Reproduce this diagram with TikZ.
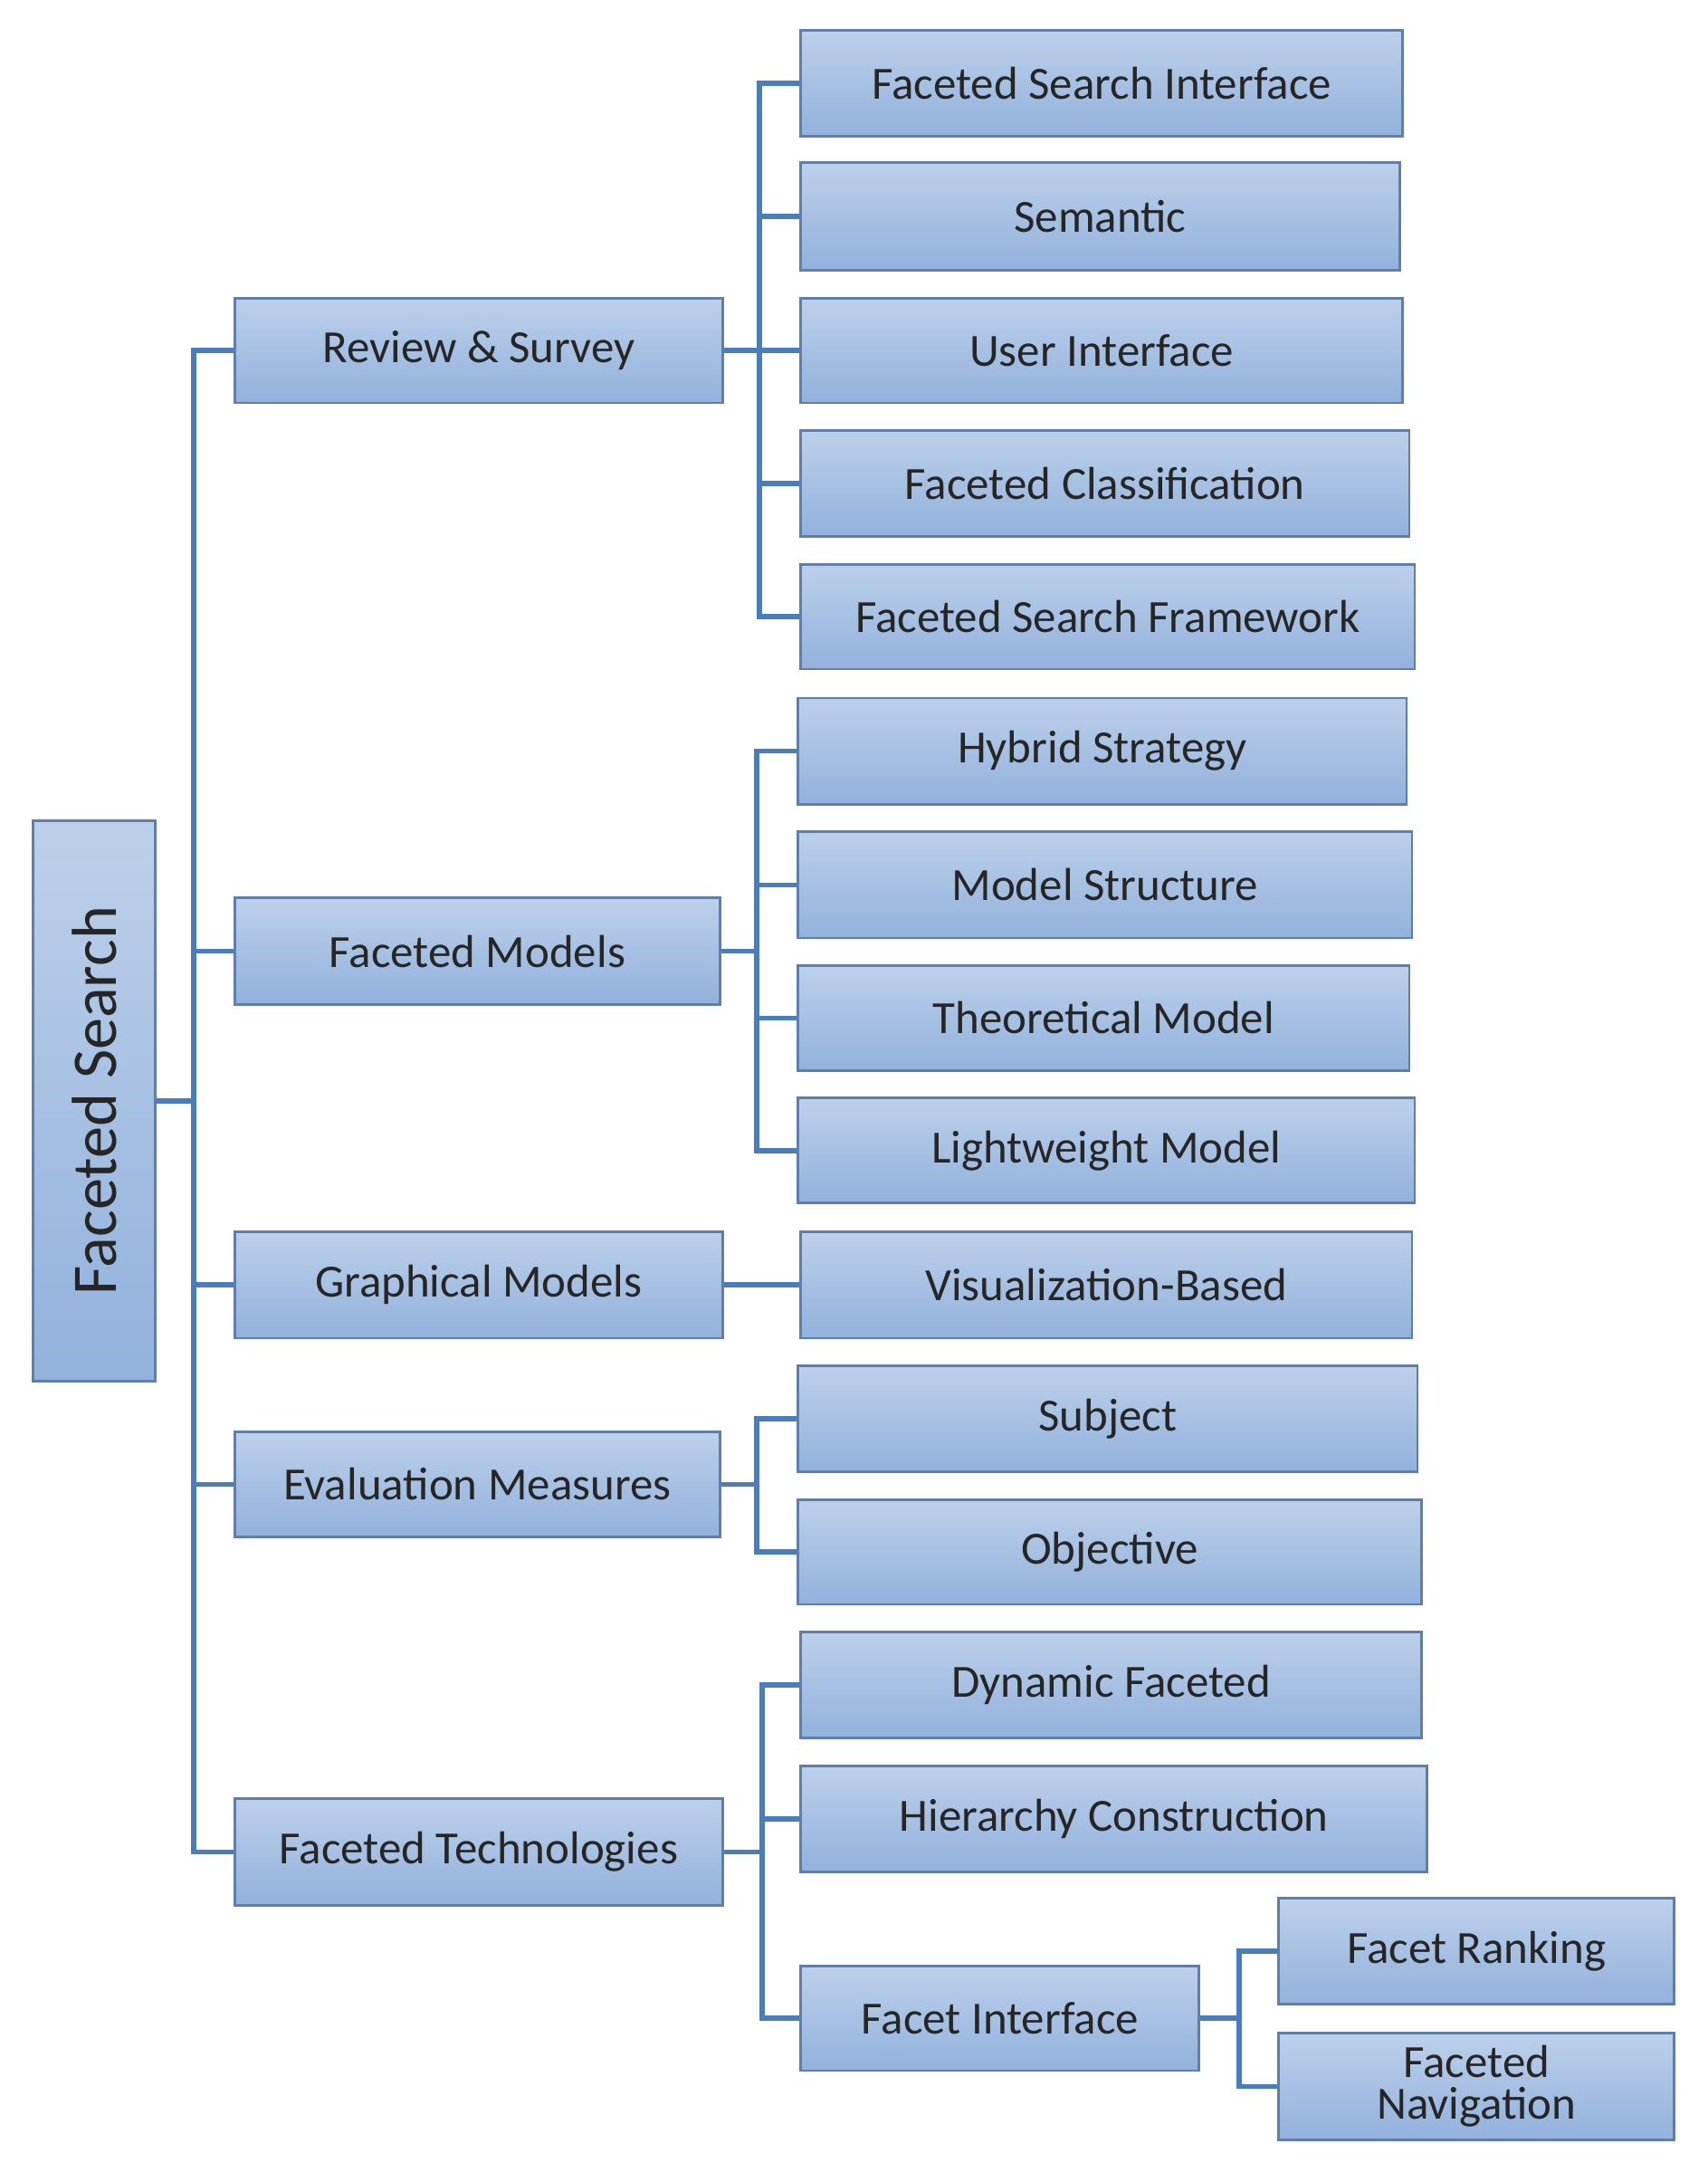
\documentclass[tikz,border=0pt]{standalone}
\usepackage{fontspec}
\setmainfont{Carlito}
\usetikzlibrary{calc}
\definecolor{bxtop}{HTML}{BCD0EA}
\definecolor{bxbot}{HTML}{92B1DC}
\definecolor{bxline}{HTML}{5F7FA8}
\definecolor{conn}{HTML}{4A7EBB}
\tikzset{
  bx/.style={draw=bxline, line width=0.8pt, top color=bxtop, bottom color=bxbot, inner sep=0pt, align=center, font=\fontsize{14.5}{15}\selectfont, text=black!85},
  cn/.style={draw=conn, line width=1.6pt}
}
\newcommand{\bxnode}[6]{\node[bx, minimum width={(#4-#2)*0.01518cm}, minimum height={(#5-#3)*0.01524cm}] (#1) at ({(#2+#4)/2},{(#3+#5)/2}) {#6};}
\begin{document}
\begin{tikzpicture}[x=0.01518cm,y=-0.01524cm]
\useasboundingbox (0,0) rectangle (1243,1568);
% root
\node[bx, minimum width={(113-24)*0.01518cm}, minimum height={(1001-595)*0.01524cm}] (root) at (68.5,798) {};
\node[rotate=90, font=\fontsize{20}{20}\selectfont, text=black!85] (roottxt) at (root.center) {Faceted Search};
% level 1
\bxnode{rev}{171}{216}{526}{292}{Review \& Survey}
\bxnode{mod}{171}{651}{524}{728}{Faceted Models}
\bxnode{gra}{171}{893}{526}{970}{Graphical Models}
\bxnode{eva}{171}{1038}{524}{1114}{Evaluation Measures}
\bxnode{tec}{171}{1304}{526}{1381}{Faceted Technologies}
% level 2
\bxnode{fsi}{583}{22}{1021}{99}{Faceted Search Interface}
\bxnode{sem}{583}{118}{1019}{196}{Semantic}
\bxnode{ui}{583}{216}{1021}{292}{User Interface}
\bxnode{fc}{583}{312}{1026}{389}{Faceted Classification}
\bxnode{fsf}{583}{409}{1030}{485}{Faceted Search Framework}
\bxnode{hyb}{581}{506}{1024}{583}{Hybrid Strategy}
\bxnode{ms}{581}{603}{1028}{680}{Model Structure}
\bxnode{tm}{581}{700}{1026}{776}{Theoretical Model}
\bxnode{lm}{581}{796}{1030}{872}{Lightweight Model}
\bxnode{vis}{583}{893}{1028}{970}{Visualization-Based}
\bxnode{sub}{581}{990}{1032}{1067}{Subject}
\bxnode{obj}{581}{1087}{1035}{1163}{Objective}
\bxnode{dyn}{583}{1183}{1035}{1260}{Dynamic Faceted}
\bxnode{hie}{583}{1280}{1039}{1357}{Hierarchy Construction}
\bxnode{fi}{583}{1425}{873}{1501}{Facet Interface}
\bxnode{fr}{931}{1376}{1219}{1453}{Facet Ranking}
\bxnode{fn}{931}{1474}{1219}{1551}{Faceted\\[-2pt]Navigation}
% branch coordinates
\coordinate (t0) at (141,0);
\coordinate (t1) at (553,0);
\coordinate (t2) at (551,0);
\coordinate (t3) at (551,0);
\coordinate (t4) at (555,0);
\coordinate (t5) at (902,0);
% connectors
\foreach \c in {rev,mod,gra,eva,tec}
  \draw[cn] (root.east) -- (root.east -| t0) |- (\c.west);
\foreach \c in {fsi,sem,ui,fc,fsf}
  \draw[cn] (rev.east) -- (rev.east -| t1) |- (\c.west);
\foreach \c in {hyb,ms,tm,lm}
  \draw[cn] (mod.east) -- (mod.east -| t2) |- (\c.west);
\draw[cn] (gra.east) -- (vis.west);
\foreach \c in {sub,obj}
  \draw[cn] (eva.east) -- (eva.east -| t3) |- (\c.west);
\foreach \c in {dyn,hie,fi}
  \draw[cn] (tec.east) -- (tec.east -| t4) |- (\c.west);
\foreach \c in {fr,fn}
  \draw[cn] (fi.east) -- (fi.east -| t5) |- (\c.west);
\end{tikzpicture}
\end{document}
